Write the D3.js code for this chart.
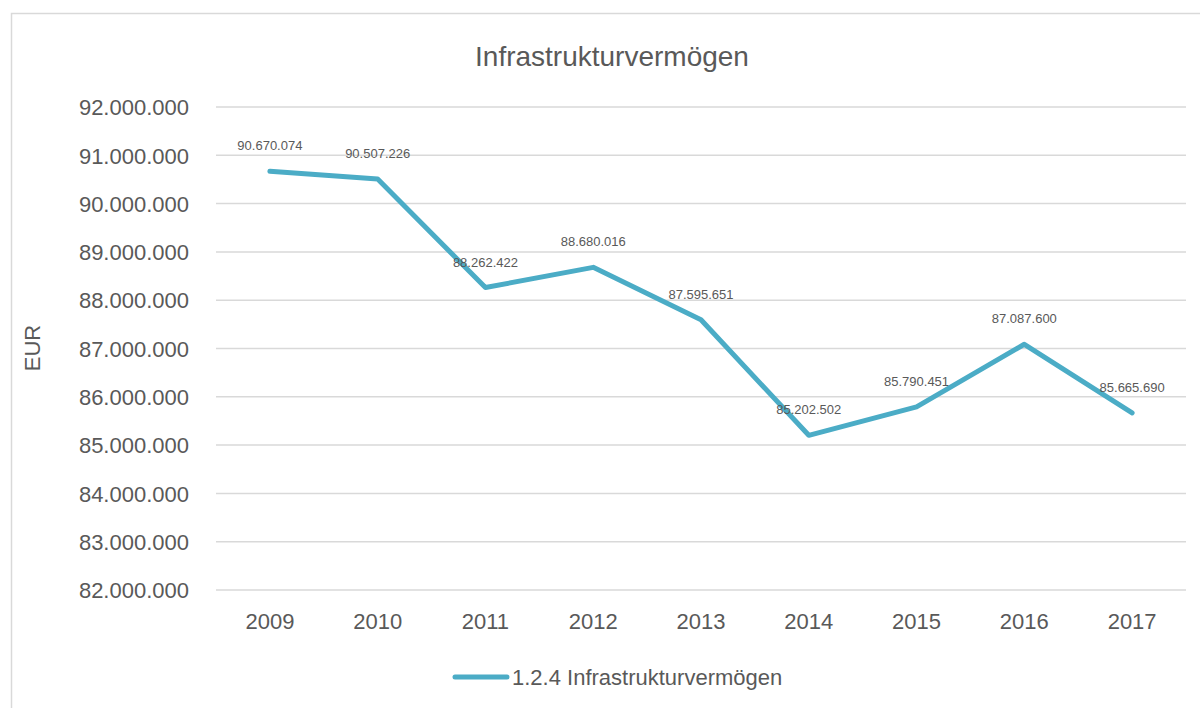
<!DOCTYPE html>
<html>
<head>
<meta charset="utf-8">
<script src="https://cdn.jsdelivr.net/npm/d3@7"></script>
<style>
    body { margin: 0; background: #fff; }
    svg text { font-family: "Liberation Sans Narrow", "Arial Narrow", "Liberation Sans", sans-serif; fill: #595959; }
</style>
</head>
<body>
<div id="chart"></div>
<script>
// Chart data
var years = ["2009", "2010", "2011", "2012", "2013", "2014", "2015", "2016", "2017"];
var values = [90670074, 90507226, 88262422, 88680016, 87595651, 85202502, 85790451, 87087600, 85665690];
var yTicks = [82000000, 83000000, 84000000, 85000000, 86000000, 87000000, 88000000, 89000000, 90000000, 91000000, 92000000];
var seriesName = "1.2.4 Infrastrukturvermögen";
var chartTitle = "Infrastrukturvermögen";

var W = 1200, H = 708;
var margin = { top: 107, right: 14, bottom: 118, left: 216 };
var width = 1186 - margin.left;
var height = 590 - margin.top;

// German number format
var de = d3.formatLocale({ decimal: ",", thousands: ".", grouping: [3], currency: ["", " €"] });
var fmt = de.format(",d");

var svg = d3.select("#chart").append("svg")
    .attr("width", W)
    .attr("height", H);

// outer chart border
svg.append("rect")
    .attr("x", 11.5).attr("y", 13.5)
    .attr("width", 1200).attr("height", 720)
    .attr("fill", "none")
    .attr("stroke", "#d9d9d9")
    .attr("stroke-width", 1.5);

var g = svg.append("g")
    .attr("transform", "translate(" + margin.left + "," + margin.top + ")");

var x = d3.scaleBand().domain(years).range([0, width]);
var y = d3.scaleLinear().domain([82000000, 92000000]).range([height, 0]);

// gridlines
g.append("g")
    .selectAll("line")
    .data(yTicks)
    .enter()
    .append("line")
    .attr("x1", 0).attr("x2", width)
    .attr("y1", d => y(d)).attr("y2", d => y(d))
    .attr("stroke", "#d9d9d9")
    .attr("stroke-width", 1.5);

// y axis labels
var yAxis = g.append("g")
    .attr("transform", "translate(-24,0)")
    .call(d3.axisLeft(y).tickValues(yTicks).tickFormat(fmt).tickSize(0));
yAxis.select(".domain").remove();
yAxis.selectAll("text")
    .attr("font-size", 22)
    .attr("dy", "0.35em")
    .attr("font-family", null)
    .attr("fill", "#595959");

// x axis labels
var xAxis = g.append("g")
    .attr("transform", "translate(0," + height + ")")
    .call(d3.axisBottom(x).tickSize(0).tickPadding(23));
xAxis.select(".domain").remove();
xAxis.selectAll("text")
    .attr("font-size", 22)
    .attr("font-family", null)
    .attr("fill", "#595959");

// line
var line = d3.line()
    .x((d, i) => x(years[i]) + x.bandwidth() / 2)
    .y(d => y(d));

g.append("path")
    .datum(values)
    .attr("d", line)
    .attr("fill", "none")
    .attr("stroke", "#4bacc6")
    .attr("stroke-width", 5)
    .attr("stroke-linejoin", "round")
    .attr("stroke-linecap", "round");

// data labels
g.selectAll(".dlabel")
    .data(values)
    .enter()
    .append("text")
    .attr("class", "dlabel")
    .attr("x", (d, i) => x(years[i]) + x.bandwidth() / 2)
    .attr("y", d => y(d) - 21)
    .attr("text-anchor", "middle")
    .attr("font-size", 13)
    .attr("fill", "#404040")
    .text(d => fmt(d));

// title
svg.append("text")
    .attr("x", 612).attr("y", 66)
    .attr("text-anchor", "middle")
    .attr("font-size", 28)
    .text(chartTitle);

// y axis title
svg.append("text")
    .attr("transform", "translate(40,348) rotate(-90)")
    .attr("text-anchor", "middle")
    .attr("font-size", 22)
    .text("EUR");

// legend
svg.append("line")
    .attr("x1", 455).attr("x2", 507)
    .attr("y1", 677).attr("y2", 677)
    .attr("stroke", "#4bacc6")
    .attr("stroke-width", 5)
    .attr("stroke-linecap", "round");
svg.append("text")
    .attr("x", 512).attr("y", 685)
    .attr("font-size", 22)
    .text(seriesName);
</script>
</body>
</html>
